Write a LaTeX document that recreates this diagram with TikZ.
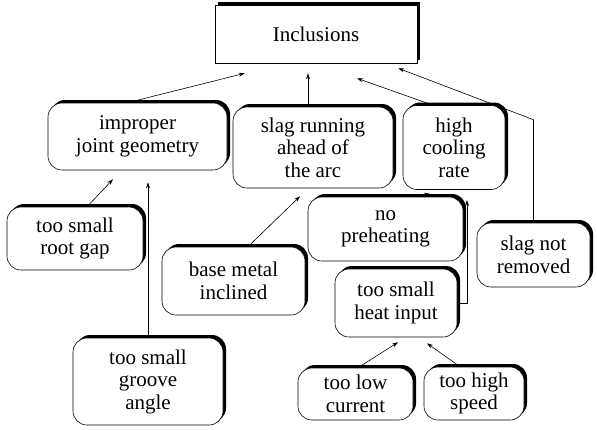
\documentclass[tikz,border=0pt]{standalone}
\usepackage{fontspec}
\setmainfont{Liberation Serif}
\usetikzlibrary{
  arrows.meta,
  shadows
}

\begin{document}
\begin{tikzpicture}[
  x=1pt, y=-1pt,
  every node/.style={font=\fontsize{21}{22.5}\selectfont, align=center},
  cause/.style={
    draw=black, fill=white, line width=0.6pt,
    rounded corners=14pt, inner sep=2pt,
    drop shadow={shadow xshift=3pt, shadow yshift=3pt, fill=black, opacity=1}
  },
  effect/.style={cause, rounded corners=0pt},
  link/.style={draw=black, line width=0.6pt, -{Stealth[length=6pt, width=4pt]}}
]
\useasboundingbox (0,0) rectangle (597,429);

% top
\node[effect, minimum width=202pt, minimum height=58pt] (incl) at (316,34) {Inclusions};

% first row
\node[cause, minimum width=179pt, minimum height=67pt] (improper) at (137.5,136.5) {improper\\joint geometry};
\node[cause, minimum width=160pt, minimum height=81pt] (slagrun) at (313,147.5) {slag running\\ahead of\\the arc};
\node[cause, minimum width=102pt, minimum height=84pt] (cooling) at (454,147.5) {high\\cooling\\rate};

% second row
\node[cause, minimum width=136pt, minimum height=63pt] (rootgap) at (75,238.5) {too small\\root gap};
\node[cause, minimum width=143pt, minimum height=68pt] (basemetal) at (233.5,281) {base metal\\inclined};
\node[cause, minimum width=155pt, minimum height=64pt] (preheat) at (385.5,229) {no\\preheating};
\node[cause, minimum width=113pt, minimum height=64pt] (slagnot) at (533.5,255) {slag not\\removed};
\node[cause, minimum width=122pt, minimum height=68pt] (heat) at (396,303) {too small\\heat input};

% bottom row
\node[cause, minimum width=150pt, minimum height=87pt] (groove) at (148,381.5) {too small\\groove\\angle};
\node[cause, minimum width=115pt, minimum height=52pt] (current) at (355.5,394) {too low\\current};
\node[cause, minimum width=100pt, minimum height=53pt] (speed) at (474,393.5) {too high\\speed};

% connectors
\draw[link] ([xshift=-10pt]improper.north) -- ([xshift=30pt,yshift=-10pt]incl.south west);
\draw[link] ([xshift=-5pt]slagrun.north) -- ([xshift=-8pt,yshift=-10pt]incl.south);
\draw[link] ([xshift=-21pt]cooling.north) -- ([xshift=41pt,yshift=-15pt]incl.south);
\draw[link] (slagnot.north) -- ++(0,-103) -- ([xshift=-19pt,yshift=-5pt]incl.south east);
\draw[link] ([xshift=12pt]rootgap.north) -- ([xshift=-24.5pt,yshift=-9pt]improper.south);
\draw[link] (groove.north) -- ([yshift=-12pt]groove.north |- improper.south);
\draw[link] ([xshift=14.5pt]basemetal.north) -- ([xshift=-13pt,yshift=-8pt]slagrun.south);
\draw[link] ([xshift=24.5pt]preheat.north) -- ([xshift=-24pt,yshift=-4pt]cooling.south);
\draw[link] (heat.east) -| ([xshift=13pt,yshift=-10pt]cooling.south);
\draw[link] ([xshift=2.5pt]current.north) -- ([xshift=2pt,yshift=-5pt]heat.south);
\draw[link] ([xshift=-14pt]speed.north) -- ([xshift=31pt,yshift=-6pt]heat.south);
\end{tikzpicture}
\end{document}
